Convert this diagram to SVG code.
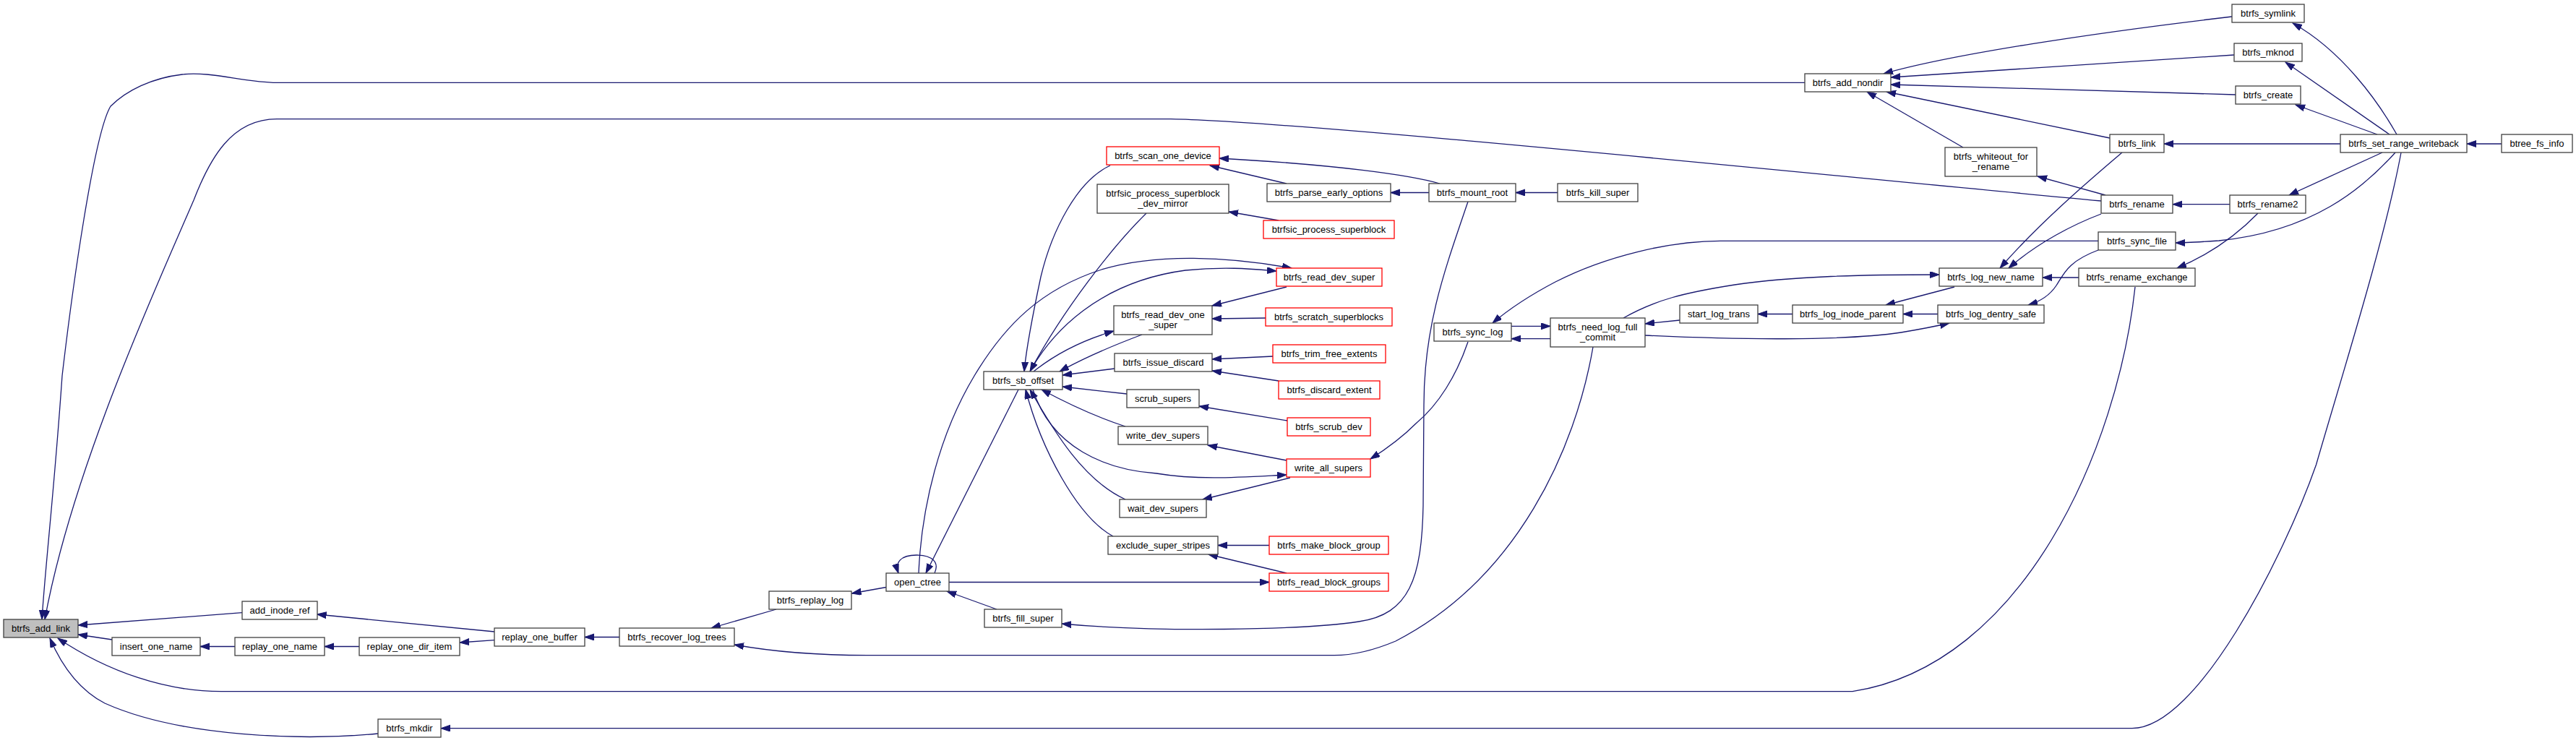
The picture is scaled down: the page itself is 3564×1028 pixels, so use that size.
<svg xmlns="http://www.w3.org/2000/svg" width="3564" height="1028" viewBox="0 0 3564 1028">
<style>
.n rect{fill:#ffffff;stroke:#404040;stroke-width:1.3}
.n.r rect{stroke:#ff0000}
.n.m rect{fill:#bfbfbf}
.n text{font-family:"Liberation Sans",Arial,Helvetica,sans-serif;font-size:13px;fill:#000000;text-anchor:middle}
#edges path{fill:none;stroke:#191970;stroke-width:1.3;marker-end:url(#ah)}
</style>
<defs>
<marker id="ah" markerUnits="userSpaceOnUse" markerWidth="14" markerHeight="10" refX="13" refY="4.5" orient="auto">
<path d="M0,0 L13,4.5 L0,9 z" fill="#191970" stroke="#191970" stroke-width="1"/>
</marker>
</defs>
<rect x="0" y="0" width="3564" height="1028" fill="#ffffff"/>
<g id="edges">
<path d="M2497,114.3 L383,114.3 C340,114.3 290,98 252,103 C210,108 175,125 153,147 C130,185 100,400 86,520 C75,680 62,790 58,857"/>
<path d="M2907,278 C2500,240 1800,168 1620,164.7 L383,164.7 C320,164.7 290,220 268,277 C215,400 100,650 62,857"/>
<path d="M335,847.7 L108,865"/>
<path d="M155,885 L108,878"/>
<path d="M2954,397 C2930,620 2800,920 2563,956.7 L306,956.7 C230,956.7 150,930 80,883"/>
<path d="M523,1015 C420,1025 250,1020 145,973 C110,955 85,920 69,883"/>
<path d="M325,894.5 L277,894.5"/>
<path d="M497,894.5 L449,894.5"/>
<path d="M684,874 L438.5,850"/>
<path d="M684,885.7 L636,889"/>
<path d="M857,881.5 L809,881.5"/>
<path d="M1074,843 L984,869"/>
<path d="M2204,480 C2180,620 2100,800 1931,887 C1900,900 1870,906.7 1846,906.7 L1200,906.7 C1120,906.7 1060,900 1016,892"/>
<path d="M1226,812.5 L1178.5,821"/>
<path d="M1293,793 C1300,778 1290,768 1268,768 C1246,768 1238,778 1243,793"/>
<path d="M1409,539 L1281,793"/>
<path d="M1379,843 L1310,818"/>
<path d="M1313,805.5 L1756,805.5"/>
<path d="M1271,793 C1275,700 1300,600 1348,520 C1390,450 1440,400 1524,373 C1600,350 1700,355 1787,371"/>
<path d="M1425,514 C1455,460 1520,390 1640,374 C1700,368 1740,373 1766,375"/>
<path d="M1536,229 C1490,250 1455,320 1440,383 C1430,430 1420,480 1417,514"/>
<path d="M1586,295 C1540,340 1470,430 1425,514"/>
<path d="M1780,397 L1677,423"/>
<path d="M1430,514 C1460,490 1500,470 1541,458"/>
<path d="M1580,463 C1540,478 1500,495 1466,514"/>
<path d="M1542,510 L1470,519"/>
<path d="M1559,545 L1470,535"/>
<path d="M1557,590 C1520,578 1480,560 1441,539"/>
<path d="M1557,691 C1500,665 1460,600 1425,539"/>
<path d="M1540,742 C1490,715 1440,620 1419,539"/>
<path d="M1429,539 C1455,620 1530,650 1600,655 C1660,665 1720,660 1780,657"/>
<path d="M1780,637 L1671,616"/>
<path d="M1785,661 L1664,691"/>
<path d="M1781,582 L1659,562"/>
<path d="M1761,493 L1677,497"/>
<path d="M1769,527 L1677,513"/>
<path d="M1751,440 L1677,441"/>
<path d="M1769,305 L1700,293"/>
<path d="M1756,754.5 L1685,754.5"/>
<path d="M1780,793 L1672,767"/>
<path d="M1992,254 C1950,242 1850,228 1687,219"/>
<path d="M1780,254 L1674,229"/>
<path d="M1977,266.5 L1924,266.5"/>
<path d="M2155,266.5 L2097,266.5"/>
<path d="M2031,279 C2000,370 1970,450 1970,560 L1969,700 C1967,800 1950,850 1880,860 C1800,872 1600,875 1469,863"/>
<path d="M2903,333.3 L2380,333.3 C2310,333.3 2220,355 2152,390 C2110,412 2085,430 2065,447"/>
<path d="M2091,451.3 L2145,451.3"/>
<path d="M2145,468.7 L2091,468.7"/>
<path d="M2246,440 C2290,415 2330,405 2400,394 C2480,382 2580,380 2683,380"/>
<path d="M2324,443 L2276,448"/>
<path d="M2276,464 C2400,470 2550,472 2630,460 C2660,455 2680,451 2697,447"/>
<path d="M2031,473 C2015,520 1990,560 1960,585 C1940,605 1920,620 1896,635"/>
<path d="M3088,23 C2900,45 2700,75 2606,102"/>
<path d="M3091,76 L2616,107"/>
<path d="M3093,131 L2616,117"/>
<path d="M2919,191 L2610,127"/>
<path d="M2716,204 L2583,127"/>
<path d="M2913,270 L2819,244"/>
<path d="M2936,211 C2890,250 2820,310 2767,371"/>
<path d="M2907,296 C2870,310 2820,335 2779,371"/>
<path d="M2876,384 L2826,384"/>
<path d="M2704,397 L2609,422"/>
<path d="M2681,434.5 L2633,434.5"/>
<path d="M2480,434.5 L2432,434.5"/>
<path d="M2903,346 C2860,362 2855,380 2845,395 C2835,410 2820,418 2806,422"/>
<path d="M3316,186 C3290,140 3240,70 3172,32"/>
<path d="M3306,186 L3162,86"/>
<path d="M3289,186 L3176,145"/>
<path d="M3238,199 L2994,199"/>
<path d="M3461,199 L3413,199"/>
<path d="M3085,282.7 L3006,282.7"/>
<path d="M3296,211 L3167,270"/>
<path d="M3314,211 C3270,260 3200,320 3070,333 C3040,335 3020,336 3010,336"/>
<path d="M3124,295 C3090,330 3050,355 3012,371"/>
<path d="M3322,211 C3300,330 3240,520 3204.5,643 C3160,770 3040,1007.7 2950,1007.7 L610,1007.7"/>
</g>
<g id="n1" class="n m"><rect x="5" y="857" width="103" height="25"/><text x="56.5" y="874">btrfs_add_link</text></g>
<g id="n2" class="n"><rect x="335" y="832" width="104" height="25"/><text x="387" y="849">add_inode_ref</text></g>
<g id="n3" class="n"><rect x="155" y="882" width="122" height="25"/><text x="216" y="899">insert_one_name</text></g>
<g id="n4" class="n"><rect x="325" y="882" width="124" height="25"/><text x="387" y="899">replay_one_name</text></g>
<g id="n5" class="n"><rect x="497" y="882" width="139" height="25"/><text x="566.5" y="899">replay_one_dir_item</text></g>
<g id="n6" class="n"><rect x="523" y="995" width="87" height="25"/><text x="566.5" y="1012">btrfs_mkdir</text></g>
<g id="n7" class="n"><rect x="684" y="869" width="125" height="25"/><text x="746.5" y="886">replay_one_buffer</text></g>
<g id="n8" class="n"><rect x="857" y="869" width="159" height="25"/><text x="936.5" y="886">btrfs_recover_log_trees</text></g>
<g id="n9" class="n"><rect x="1064" y="818" width="114" height="25"/><text x="1121" y="835">btrfs_replay_log</text></g>
<g id="n10" class="n"><rect x="1226" y="793" width="87" height="25"/><text x="1269.5" y="810">open_ctree</text></g>
<g id="n11" class="n"><rect x="1361" y="514" width="109" height="25"/><text x="1415.5" y="531">btrfs_sb_offset</text></g>
<g id="n12" class="n"><rect x="1362" y="843" width="107" height="25"/><text x="1415.5" y="860">btrfs_fill_super</text></g>
<g id="n13" class="n r"><rect x="1531" y="203" width="156" height="25"/><text x="1609" y="220">btrfs_scan_one_device</text></g>
<g id="n14" class="n"><rect x="1518" y="255" width="182" height="40"/><text x="1609" y="271.5">btrfsic_process_superblock</text><text x="1609" y="286">_dev_mirror</text></g>
<g id="n15" class="n"><rect x="1541" y="423" width="136" height="40"/><text x="1609" y="439.5">btrfs_read_dev_one</text><text x="1609" y="454">_super</text></g>
<g id="n16" class="n"><rect x="1542" y="489" width="135" height="25"/><text x="1609.5" y="506">btrfs_issue_discard</text></g>
<g id="n17" class="n"><rect x="1559" y="539" width="100" height="25"/><text x="1609" y="556">scrub_supers</text></g>
<g id="n18" class="n"><rect x="1547" y="590" width="124" height="25"/><text x="1609" y="607">write_dev_supers</text></g>
<g id="n19" class="n"><rect x="1549" y="691" width="120" height="25"/><text x="1609" y="708">wait_dev_supers</text></g>
<g id="n20" class="n"><rect x="1533" y="742" width="152" height="25"/><text x="1609" y="759">exclude_super_stripes</text></g>
<g id="n21" class="n"><rect x="1753" y="254" width="171" height="25"/><text x="1838.5" y="271">btrfs_parse_early_options</text></g>
<g id="n22" class="n r"><rect x="1748" y="305" width="181" height="25"/><text x="1838.5" y="322">btrfsic_process_superblock</text></g>
<g id="n23" class="n r"><rect x="1766" y="371" width="146" height="25"/><text x="1839" y="388">btrfs_read_dev_super</text></g>
<g id="n24" class="n r"><rect x="1751" y="426" width="175" height="25"/><text x="1838.5" y="443">btrfs_scratch_superblocks</text></g>
<g id="n25" class="n r"><rect x="1761" y="477" width="156" height="25"/><text x="1839" y="494">btrfs_trim_free_extents</text></g>
<g id="n26" class="n r"><rect x="1769" y="527" width="140" height="25"/><text x="1839" y="544">btrfs_discard_extent</text></g>
<g id="n27" class="n r"><rect x="1781" y="578" width="115" height="25"/><text x="1838.5" y="595">btrfs_scrub_dev</text></g>
<g id="n28" class="n r"><rect x="1780" y="635" width="116" height="25"/><text x="1838" y="652">write_all_supers</text></g>
<g id="n29" class="n r"><rect x="1756" y="742" width="165" height="25"/><text x="1838.5" y="759">btrfs_make_block_group</text></g>
<g id="n30" class="n r"><rect x="1756" y="793" width="165" height="25"/><text x="1838.5" y="810">btrfs_read_block_groups</text></g>
<g id="n31" class="n"><rect x="1977" y="254" width="120" height="25"/><text x="2037" y="271">btrfs_mount_root</text></g>
<g id="n32" class="n"><rect x="2155" y="254" width="111" height="25"/><text x="2210.5" y="271">btrfs_kill_super</text></g>
<g id="n33" class="n"><rect x="1984" y="447" width="107" height="25"/><text x="2037.5" y="464">btrfs_sync_log</text></g>
<g id="n34" class="n"><rect x="2145" y="440" width="131" height="40"/><text x="2210.5" y="456.5">btrfs_need_log_full</text><text x="2210.5" y="471">_commit</text></g>
<g id="n35" class="n"><rect x="2324" y="422" width="108" height="25"/><text x="2378" y="439">start_log_trans</text></g>
<g id="n36" class="n"><rect x="2497" y="102" width="119" height="25"/><text x="2556.5" y="119">btrfs_add_nondir</text></g>
<g id="n37" class="n"><rect x="2691" y="204" width="127" height="40"/><text x="2754.5" y="220.5">btrfs_whiteout_for</text><text x="2754.5" y="235">_rename</text></g>
<g id="n38" class="n"><rect x="2683" y="371" width="143" height="25"/><text x="2754.5" y="388">btrfs_log_new_name</text></g>
<g id="n39" class="n"><rect x="2480" y="422" width="153" height="25"/><text x="2556.5" y="439">btrfs_log_inode_parent</text></g>
<g id="n40" class="n"><rect x="2681" y="422" width="147" height="25"/><text x="2754.5" y="439">btrfs_log_dentry_safe</text></g>
<g id="n41" class="n"><rect x="2919" y="186" width="75" height="25"/><text x="2956.5" y="203">btrfs_link</text></g>
<g id="n42" class="n"><rect x="2907" y="270" width="99" height="25"/><text x="2956.5" y="287">btrfs_rename</text></g>
<g id="n43" class="n"><rect x="2903" y="321" width="107" height="25"/><text x="2956.5" y="338">btrfs_sync_file</text></g>
<g id="n44" class="n"><rect x="2876" y="371" width="161" height="25"/><text x="2956.5" y="388">btrfs_rename_exchange</text></g>
<g id="n45" class="n"><rect x="3088" y="6" width="100" height="25"/><text x="3138" y="23">btrfs_symlink</text></g>
<g id="n46" class="n"><rect x="3091" y="60" width="94" height="25"/><text x="3138" y="77">btrfs_mknod</text></g>
<g id="n47" class="n"><rect x="3093" y="119" width="90" height="25"/><text x="3138" y="136">btrfs_create</text></g>
<g id="n48" class="n"><rect x="3085" y="270" width="105" height="25"/><text x="3137.5" y="287">btrfs_rename2</text></g>
<g id="n49" class="n"><rect x="3238" y="186" width="175" height="25"/><text x="3325.5" y="203">btrfs_set_range_writeback</text></g>
<g id="n50" class="n"><rect x="3461" y="186" width="98" height="25"/><text x="3510" y="203">btree_fs_info</text></g>
</svg>
